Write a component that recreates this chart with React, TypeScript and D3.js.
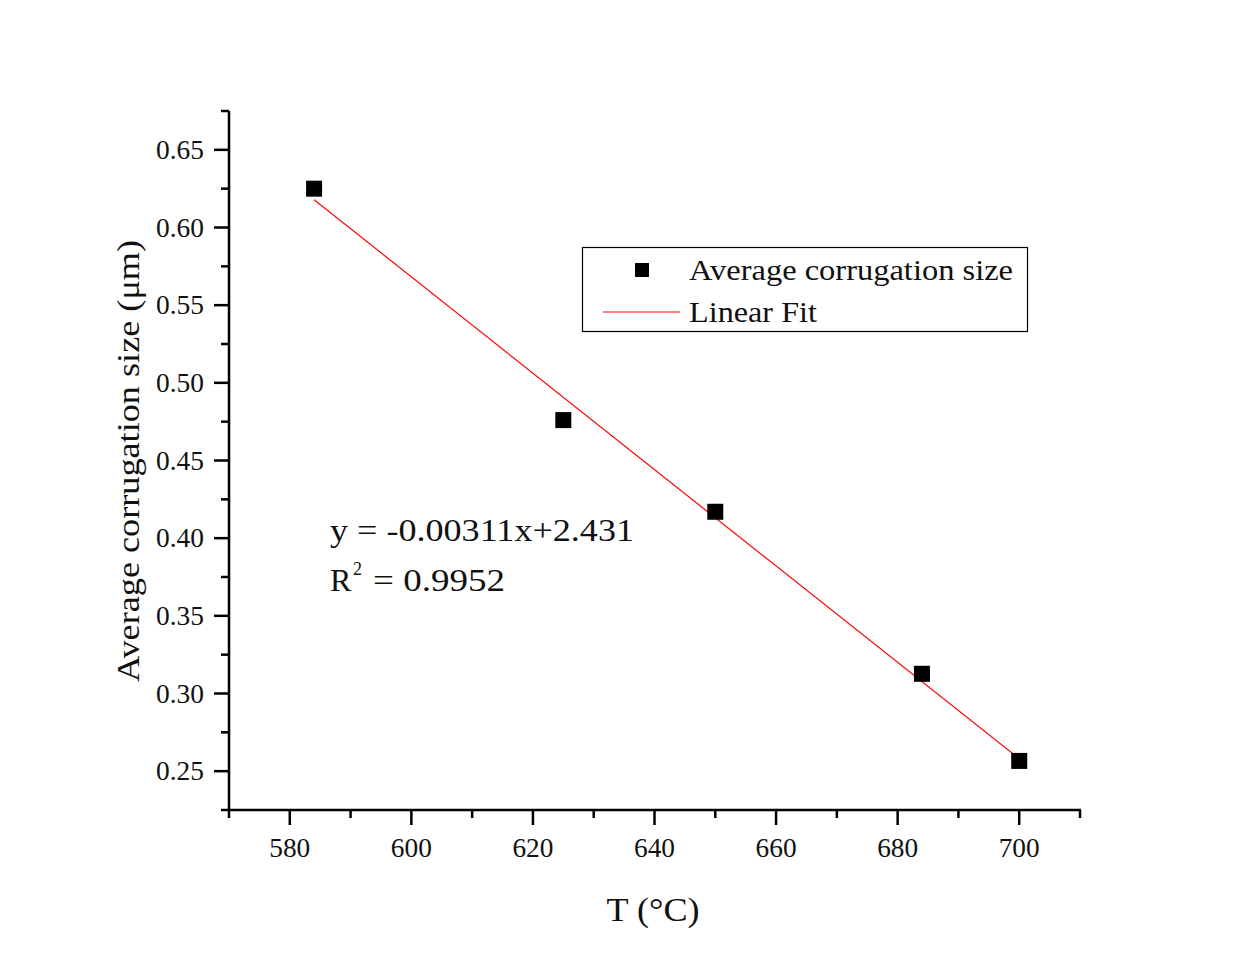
import React from "react";
import * as d3 from "d3";

const temps = [584, 625, 650, 684, 700];
const sizes = [0.625, 0.476, 0.417, 0.3127, 0.2566];
const xTicks = [580, 600, 620, 640, 660, 680, 700];
const xMinor = [570, 590, 610, 630, 650, 670, 690, 710];
const yTicks = [0.25, 0.3, 0.35, 0.4, 0.45, 0.5, 0.55, 0.6, 0.65];
const yMinor = [0.225, 0.275, 0.325, 0.375, 0.425, 0.475, 0.525, 0.575, 0.625, 0.675];
const legendLabels = ["Average corrugation size", "Linear Fit"];
const equationText = "y = -0.00311x+2.431";
const r2Value = "0.9952";

const W = 1251, H = 970;
const FONT = "'Liberation Serif', 'DejaVu Serif', serif";

export default function App() {
  const x = d3.scaleLinear().domain([570, 710]).range([229, 1080]);
  const y = d3.scaleLinear().domain([0.225, 0.675]).range([810, 111]);

  // least squares fit from data
  const mx = d3.mean(temps)!;
  const my = d3.mean(sizes)!;
  let sxy = 0, sxx = 0;
  temps.forEach((t, i) => { sxy += (t - mx) * (sizes[i] - my); sxx += (t - mx) ** 2; });
  const slope = sxy / sxx;
  const icpt = my - slope * mx;
  const x0 = d3.min(temps)!, x1 = d3.max(temps)!;
  const fitLine = d3.line<number>().x(d => x(d)).y(d => y(slope * d + icpt))([x0, x1]);

  const ms = 16;
  return (
    <svg width={W} height={H} style={{ display: "block", position: "absolute", left: 0, top: 0, background: "#fff" }} fontFamily={FONT}>
      <rect x={0} y={0} width={W} height={H} fill="#fff" />
      {/* axes */}
      <line x1={229} x2={229} y1={y(0.675)} y2={y(0.225) + 1} stroke="#000" strokeWidth={2.5} />
      <line x1={228} x2={x(710) + 1} y1={810} y2={810} stroke="#000" strokeWidth={2.5} />
      {xTicks.map(t => (
        <g key={"xt" + t}>
          <line x1={x(t)} x2={x(t)} y1={810} y2={825} stroke="#000" strokeWidth={2.5} />
          <text x={x(t)} y={857} fontSize={27} textAnchor="middle" fill="#111" textLength={41} lengthAdjust="spacingAndGlyphs">{t}</text>
        </g>
      ))}
      {xMinor.map(t => (
        <line key={"xm" + t} x1={x(t)} x2={x(t)} y1={810} y2={818} stroke="#000" strokeWidth={2.5} />
      ))}
      {yTicks.map(t => (
        <g key={"yt" + t}>
          <line x1={214} x2={229} y1={y(t)} y2={y(t)} stroke="#000" strokeWidth={2.5} />
          <text x={204} y={y(t) + 9} fontSize={27} textAnchor="end" fill="#111" textLength={48} lengthAdjust="spacingAndGlyphs">{t.toFixed(2)}</text>
        </g>
      ))}
      {yMinor.map(t => (
        <line key={"ym" + t} x1={221} x2={229} y1={y(t)} y2={y(t)} stroke="#000" strokeWidth={2.5} />
      ))}
      {/* axis titles */}
      <text x={653} y={921} fontSize={34} textAnchor="middle" fill="#111" textLength={93} lengthAdjust="spacingAndGlyphs">T (°C)</text>
      <text transform={`translate(139,461) rotate(-90)`} fontSize={32} textAnchor="middle" fill="#111" textLength={442} lengthAdjust="spacingAndGlyphs">Average corrugation size (μm)</text>
      {/* fit line */}
      <path d={fitLine!} fill="none" stroke="#ff0000" strokeWidth={1.2} />
      {/* points */}
      {temps.map((t, i) => (
        <rect key={"p" + t} x={x(t) - ms / 2} y={y(sizes[i]) - ms / 2} width={ms} height={ms} fill="#000" />
      ))}
      {/* legend */}
      <rect x={582.5} y={247.5} width={445} height={84} fill="#fff" stroke="#000" strokeWidth={1.2} />
      <rect x={635} y={263} width={14} height={14} fill="#000" />
      <text x={689} y={280} fontSize={30} fill="#111" textLength={324} lengthAdjust="spacingAndGlyphs">{legendLabels[0]}</text>
      <line x1={603} x2={680} y1={312} y2={312} stroke="#ff0000" strokeWidth={1.2} />
      <text x={689} y={322} fontSize={30} fill="#111" textLength={128} lengthAdjust="spacingAndGlyphs">{legendLabels[1]}</text>
      {/* equation */}
      <text x={330} y={541} fontSize={32} fill="#111" textLength={304} lengthAdjust="spacingAndGlyphs">{equationText}</text>
      <text x={330} y={591} fontSize={32} fill="#111">R</text>
      <text x={353} y={575} fontSize={18} fill="#111">2</text>
      <text x={373} y={591} fontSize={32} fill="#111" textLength={132} lengthAdjust="spacingAndGlyphs">= {r2Value}</text>
    </svg>
  );
}
